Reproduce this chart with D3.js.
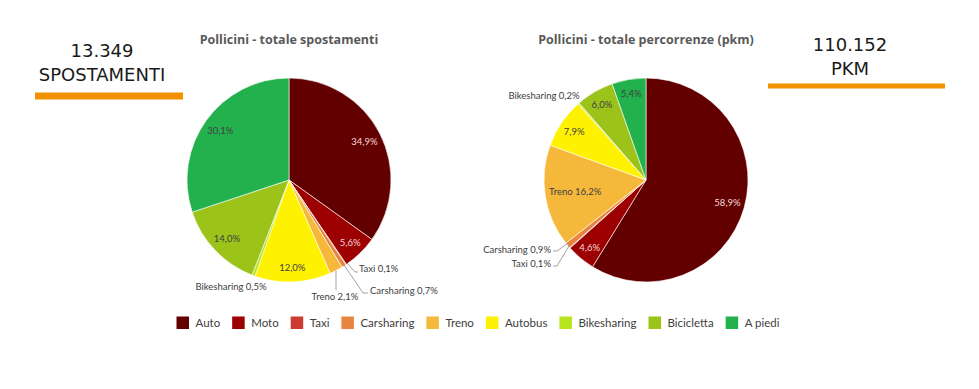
<!DOCTYPE html>
<html><head><meta charset="utf-8">
<script src="https://cdn.jsdelivr.net/npm/d3@7"></script>
<style>body{margin:0;background:#fff}svg{display:block}</style>
</head><body>
<svg id="c" width="979" height="389"></svg>
<script>
const categories = ["Auto","Moto","Taxi","Carsharing","Treno","Autobus","Bikesharing","Bicicletta","A piedi"];
const colors = ["#620000","#9c0000","#cd3a30","#e8843f","#f6b83a","#fff200","#b9e420","#9bc31a","#22b14c"];
const spostamenti = [34.9,5.6,0.1,0.7,2.1,12.0,0.5,14.0,30.1];
const percorrenze = [58.9,4.6,0.1,0.9,16.2,7.9,0.2,6.0,5.4];
const spostLabels = ["34,9%","5,6%","Taxi 0,1%","Carsharing 0,7%","Treno 2,1%","12,0%","Bikesharing 0,5%","14,0%","30,1%"];
const percLabels = ["58,9%","4,6%","Taxi 0,1%","Carsharing 0,9%","Treno 16,2%","7,9%","Bikesharing 0,2%","6,0%","5,4%"];
const titles = ["Pollicini - totale spostamenti","Pollicini - totale percorrenze (pkm)"];
const totals = [["13.349","SPOSTAMENTI"],["110.152","PKM"]];

const svg = d3.select("#c");
const R = 102;
const color = d3.scaleOrdinal().domain(categories).range(colors);
const darkSlices = new Set(["Auto","Moto"]);

// outside label layouts relative to pie center
const outside = [
  {"Taxi":{a:"start",x:70,y:89,line:[[58,83],[66,92],[69,92]]},
   "Carsharing":{a:"start",x:81,y:111,line:[[55,85],[74,113],[79,113]]},
   "Treno":{a:"middle",x:46,y:117,line:[[47,91],[47,110]]},
   "Bikesharing":{a:"middle",x:-58,y:107,line:null}},
  {"Taxi":{a:"end",x:-95,y:84,line:[[-77,66],[-89,86],[-93,86]]},
   "Carsharing":{a:"end",x:-95,y:70,line:[[-78,63],[-89,71],[-93,71]]},
   "Bikesharing":{a:"middle",x:-102,y:-84,line:null}}
];

function drawPie(cx, cy, values, labels, idx){
  const g = svg.append("g").attr("transform",`translate(${cx},${cy})`);
  const data = categories.map((c,i)=>({cat:c,v:values[i],label:labels[i]}));
  const pie = d3.pie().value(d=>d.v).sort(null);
  const arcs = pie(data);
  const arc = d3.arc().innerRadius(0).outerRadius(R);
  g.selectAll("path").data(arcs).join("path")
    .attr("d",arc).attr("fill",d=>color(d.data.cat))
    .attr("stroke","#fff").attr("stroke-width",0.6);
  const out = outside[idx];
  arcs.forEach(a=>{
    const o = out[a.data.cat];
    if(o){
      if(o.line){
        g.append("path").attr("d",d3.line()(o.line)).attr("fill","none")
          .attr("stroke","#8c8c8c").attr("stroke-width",0.8);
      }
      g.append("text").attr("x",o.x).attr("y",o.y).attr("text-anchor",o.a)
        .attr("dy","0.35em").attr("class","lbl").text(a.data.label)
        .attr("fill","#404040");
      return;
    }
    const ang = (a.startAngle+a.endAngle)/2;
    const t = g.append("text").attr("class","lbl").attr("text-anchor","middle")
      .attr("dy","0.35em").text(a.data.label)
      .attr("fill", darkSlices.has(a.data.cat) ? "#f3dada" : "#404040");
    const w = t.node().getComputedTextLength(), h = 10;
    let r = R*0.86;
    for(; r>0; r-=1){
      const x = r*Math.sin(ang), y = -r*Math.cos(ang);
      const corners = [[x-w/2,y-h/2],[x+w/2,y-h/2],[x-w/2,y+h/2],[x+w/2,y+h/2]];
      if(corners.every(p=>Math.hypot(p[0],p[1])<=R-3)) break;
    }
    t.attr("x", r*Math.sin(ang)).attr("y", -r*Math.cos(ang));
  });
  svg.append("text").attr("x",cx).attr("y",40).attr("dy","0.35em")
    .attr("text-anchor","middle").attr("class","title").text(titles[idx]);
}

svg.append("style").text(`
 .lbl{font-family:Lato,'Liberation Sans',sans-serif;font-size:9.5px}
 .title{font-family:'Open Sans',Lato,sans-serif;font-size:12.5px;font-weight:700;fill:#595959}
 .hand{font-family:'DejaVu Sans',sans-serif;font-size:18px;fill:#1a1a1a}
 .leg{font-family:Lato,'Liberation Sans',sans-serif;font-size:11.5px;fill:#404040}
`);

drawPie(289,180,spostamenti,spostLabels,0);
drawPie(646,180,percorrenze,percLabels,1);

// handwritten totals
const hand = [{x:102,y1:51,y2:75,bx1:35,bx2:183,by:96,bh:7},{x:850,y1:45,y2:69,bx1:768,bx2:945,by:86,bh:5}];
hand.forEach((h,i)=>{
  svg.append("text").attr("class","hand").attr("x",h.x).attr("y",h.y1).attr("dy","0.35em")
    .attr("text-anchor","middle").text(totals[i][0]);
  svg.append("text").attr("class","hand").attr("x",h.x).attr("y",h.y2).attr("dy","0.35em")
    .attr("text-anchor","middle").text(totals[i][1]);
  svg.append("rect").attr("x",h.bx1).attr("y",h.by-h.bh/2).attr("width",h.bx2-h.bx1)
    .attr("height",h.bh).attr("fill","#f39200");
});

// legend
const leg = svg.append("g");
let lx = 0;
const gap = 12;
categories.forEach(c=>{
  const it = leg.append("g");
  it.append("rect").attr("x",0).attr("y",-6.5).attr("width",12.5).attr("height",12.5).attr("fill",color(c));
  const t = it.append("text").attr("class","leg").attr("x",19).attr("dy","0.35em").text(c);
  const w = 19 + t.node().getComputedTextLength();
  it.attr("transform",`translate(${lx},0)`);
  lx += w + gap;
});
const totalW = lx - gap;
leg.attr("transform",`translate(${478 - totalW/2},323)`);
</script>
</body></html>
